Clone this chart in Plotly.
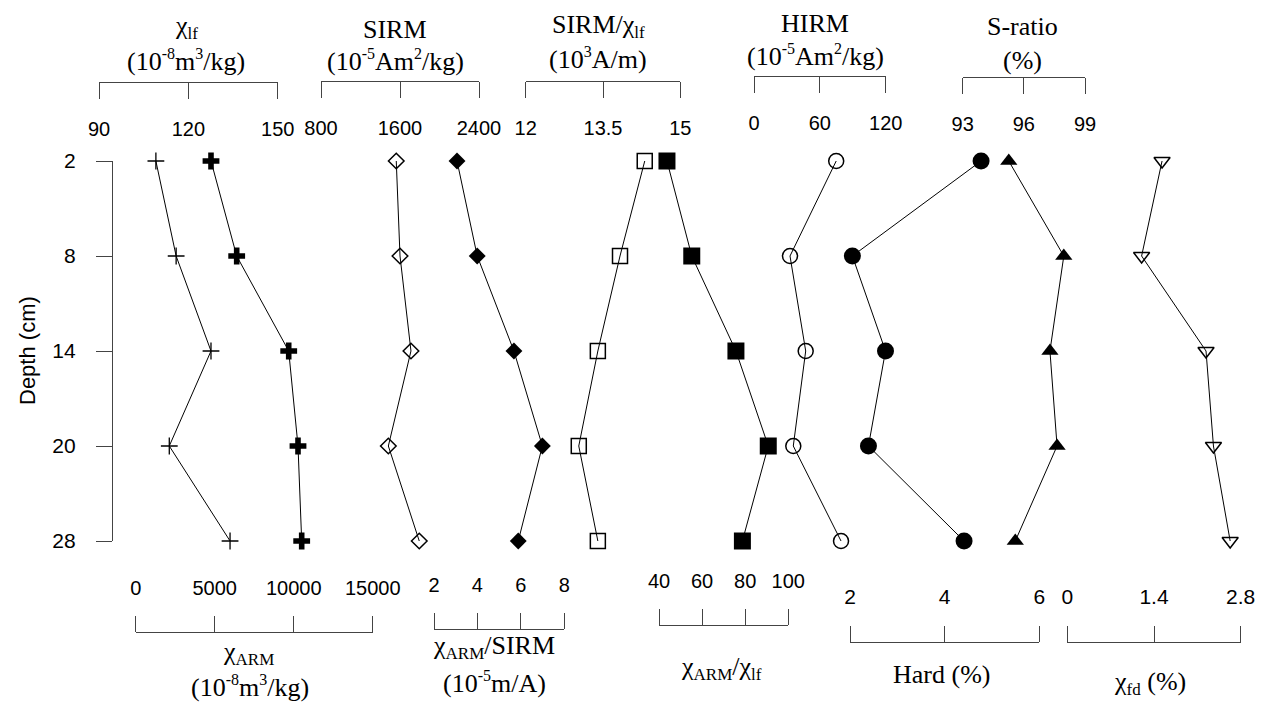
import plotly.graph_objects as go

# ---------------- data ----------------
depth = ["2", "8", "14", "20", "28"]
chi_lf = [109.1, 115.9, 127.6, 113.6, 134.0]
chi_arm = [4766, 6392, 9684, 10272, 10506]
sirm = [1562, 1600, 1711, 1482, 1795]
arm_sirm = [3.06, 3.99, 5.68, 6.99, 5.88]
sirm_chi = [14.31, 13.83, 13.40, 13.03, 13.40]
arm_chi = [43.7, 55.2, 75.7, 90.7, 78.7]
hirm = [74.9, 32.8, 47.1, 35.8, 79.3]
hard = [4.77, 2.05, 2.75, 2.39, 4.41]
s_ratio = [95.26, 97.96, 97.28, 97.63, 95.58]
chi_fd = [1.53, 1.20, 2.24, 2.36, 2.63]

tick_chi_lf = [90, 120, 150]
tick_sirm = [800, 1600, 2400]
tick_sirm_chi = [12, 13.5, 15]
tick_hirm = [0, 60, 120]
tick_s = [93, 96, 99]
tick_arm = [0, 5000, 10000, 15000]
tick_arm_sirm = [2, 4, 6, 8]
tick_arm_chi = [40, 60, 80, 100]
tick_hard = [2, 4, 6]
tick_fd = [0, 1.4, 2.8]

W, H = 1273, 702
OFF = 8  # page body margin
SANS = "Arial, Liberation Sans, sans-serif"
SERIF = "Times New Roman, Liberation Serif, serif"
AX = "#444444"


def fx(px):
    return (px - OFF) / W


def fy(py):
    return 1 - (py - OFF) / H


def label(v):
    return f"{v:g}"


def sup(t):
    return f"<sup><span style='font-size:16px'>{t}</span></sup>"


def sub(t):
    return f"<sub><span style='font-size:17px'>{t}</span></sub>"


fig = go.Figure()

series = [
    (chi_lf, "cross-thin-open", 12, 1.3),
    (chi_arm, "cross", 14, 0),
    (sirm, "diamond-open", 12, 1.5),
    (arm_sirm, "diamond", 13, 0),
    (sirm_chi, "square-open", 15, 1.5),
    (arm_chi, "square", 17, 0),
    (hirm, "circle-open", 15, 1.5),
    (hard, "circle", 17, 0),
    (s_ratio, "triangle-up", 15, 0),
    (chi_fd, "triangle-down-open", 14, 1.5),
]

for i, (vals, sym, size, lw) in enumerate(series):
    xa = "x" if i == 0 else f"x{i+1}"
    fig.add_trace(go.Scatter(
        x=vals, y=depth, xaxis=xa, yaxis="y", mode="lines+markers",
        line=dict(color="black", width=1),
        marker=dict(symbol=sym, size=size, color="black",
                    line=dict(width=lw, color="black")),
        cliponaxis=False, showlegend=False, hoverinfo="x+y",
    ))

# axis specs: (px_left, px_right, range, tickvals, line_y_px, side, fontsize)
axes = [
    (99, 277.7, [90, 150], tick_chi_lf, 81.7, "bottom", 20),
    (135.7, 372.7, [0, 15000], tick_arm, 632, "top", 20),
    (321, 479, [800, 2400], tick_sirm, 81.3, "bottom", 20),
    (434, 564.3, [2, 8], tick_arm_sirm, 629, "top", 20),
    (525.7, 680.3, [12, 15], tick_sirm_chi, 80.7, "bottom", 20),
    (659, 788.3, [40, 100], tick_arm_chi, 625, "top", 20),
    (754, 885.7, [0, 120], tick_hirm, 76, "bottom", 20),
    (850, 1039.3, [2, 6], tick_hard, 641.7, "top", 21),
    (962.7, 1085, [93, 99], tick_s, 77.3, "bottom", 20),
    (1067.3, 1240.7, [0, 2.8], tick_fd, 641.7, "top", 21),
]

layout_axes = {}
for i, (x0, x1, rng, tv, ly, side, fs) in enumerate(axes):
    name = "xaxis" if i == 0 else f"xaxis{i+1}"
    layout_axes[name] = dict(
        domain=[fx(x0), fx(x1)], range=rng, anchor="free", position=fy(ly),
        side=side, showline=True, linecolor=AX, linewidth=1.3,
        ticks="outside", ticklen=16, tickwidth=1.3, tickcolor=AX,
        tickvals=tv, ticktext=[label(v) for v in tv],
        showgrid=False, zeroline=False, automargin=False,
        tickfont=dict(family=SANS, size=fs, color="black"),
        ticklabelstandoff=13, fixedrange=True,
    )

fig.update_layout(**layout_axes)
fig.update_layout(
    width=W, height=H,
    margin=dict(l=0, r=0, t=0, b=0, pad=0),
    paper_bgcolor="white", plot_bgcolor="rgba(0,0,0,0)",
    yaxis=dict(
        type="category", categoryorder="array", categoryarray=depth,
        domain=[fy(541), fy(161)], range=[4, 0],
        anchor="free", position=fx(112), side="left",
        showline=True, linecolor=AX, linewidth=1.3,
        ticks="outside", ticklen=16, tickwidth=1.3, tickcolor=AX,
        showgrid=False, zeroline=False, automargin=False,
        tickfont=dict(family=SANS, size=21, color="black"),
        ticklabelstandoff=16, fixedrange=True,
    ),
)

titles = [
    ("χ" + sub("lf"), 186, 27),
    ("(10" + sup("-8") + "m" + sup("3") + "/kg)", 186, 60),
    ("SIRM", 395, 29),
    ("(10" + sup("-5") + "Am" + sup("2") + "/kg)", 395, 60),
    ("SIRM/χ" + sub("lf"), 598, 26),
    ("(10" + sup("3") + "A/m)", 598, 59),
    ("HIRM", 815, 24),
    ("(10" + sup("-5") + "Am" + sup("2") + "/kg)", 815, 56),
    ("S-ratio", 1022, 26),
    ("(%)", 1022, 60),
    ("χ" + sub("ARM"), 248, 653),
    ("(10" + sup("-8") + "m" + sup("3") + "/kg)", 250, 686),
    ("χ" + sub("ARM") + "/SIRM", 494, 647),
    ("(10" + sup("-5") + "m/A)", 494, 682),
    ("χ" + sub("ARM") + "/χ" + sub("lf"), 721, 668),
    ("Hard (%)", 941, 674),
    ("χ" + sub("fd") + " (%)", 1150, 683),
]
for txt, x, y in titles:
    fig.add_annotation(text=txt, x=fx(x), y=fy(y), xref="paper", yref="paper",
                       xanchor="center", yanchor="middle", showarrow=False,
                       font=dict(family=SERIF, size=26, color="black"))

fig.add_annotation(text="Depth (cm)", x=fx(27), y=fy(351), xref="paper", yref="paper",
                   xanchor="center", yanchor="middle", showarrow=False, textangle=-90,
                   font=dict(family=SANS, size=22, color="black"))

fig.write_html("out.html")
